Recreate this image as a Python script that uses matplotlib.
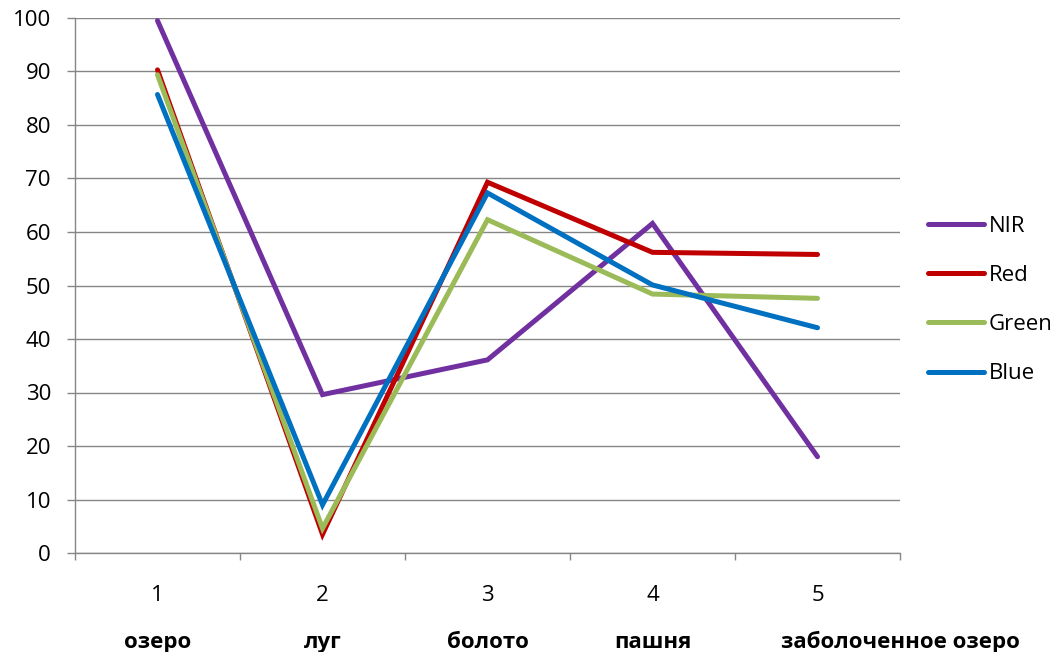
import matplotlib
matplotlib.use("Agg")
import matplotlib.pyplot as plt
import numpy as np

plt.rcParams["font.family"] = ["Open Sans", "DejaVu Sans"]

# ---------- data ----------
numbers = ["1", "2", "3", "4", "5"]
classes = ["озеро", "луг", "болото", "пашня", "заболоченное озеро"]
nir = [99.5, 29.6, 36.1, 61.6, 18.0]
red = [90.3, 3.5, 69.3, 56.2, 55.8]
green = [89.4, 4.6, 62.3, 48.4, 47.6]
blue = [85.7, 9.0, 67.3, 50.1, 42.1]

series = [("NIR", nir, "#7030A0"), ("Red", red, "#C00000"),
          ("Green", green, "#9BBB59"), ("Blue", blue, "#0070C0")]

GRID = "#868686"
FS = 16

fig = plt.figure(figsize=(10.62, 6.52), dpi=100)
ax = fig.add_axes([75 / 1062, 99 / 652, 825 / 1062, 535 / 652])

x = np.arange(len(numbers))
for name, vals, col in series:
    ax.plot(x, vals, color=col, lw=3.6, label=name,
            solid_capstyle="round", solid_joinstyle="miter", zorder=3)

ax.set_xlim(-0.5, len(numbers) - 0.5)
ax.set_ylim(0, 100)
ax.set_yticks(np.arange(0, 101, 10))
ax.yaxis.grid(True, color=GRID, lw=1.0)
ax.set_axisbelow(True)

for s in ("top", "right"):
    ax.spines[s].set_visible(False)
for s in ("left", "bottom"):
    ax.spines[s].set_color(GRID)
    ax.spines[s].set_linewidth(1.0)

ax.set_xticks(x)
ax.set_xticklabels(numbers)
ax.set_xticks(np.arange(-0.5, len(numbers)), minor=True)
ax.tick_params(axis="x", which="major", length=0, pad=23, labelsize=FS)
ax.tick_params(axis="x", which="minor", length=5, width=1.0, color=GRID)
ax.tick_params(axis="y", length=5.8, width=1.0, color=GRID, pad=11.5,
               labelsize=FS)

# second-level category labels; the last one is pushed right as in Excel
for i, lab in enumerate(classes):
    xi = x[i] + (0.5 if i == len(classes) - 1 else 0.0)
    ax.text(xi, -0.178, lab, transform=ax.get_xaxis_transform(),
            ha="center", va="baseline", fontsize=FS, fontweight="bold")

ax.legend(loc="center left", bbox_to_anchor=(928 / 1062, 1 - 300 / 652),
          bbox_transform=fig.transFigure, frameon=False, fontsize=FS,
          handlelength=2.5, handletextpad=0.22, labelspacing=1.27,
          borderpad=0, borderaxespad=0)

fig.savefig("out.png", dpi=100)
